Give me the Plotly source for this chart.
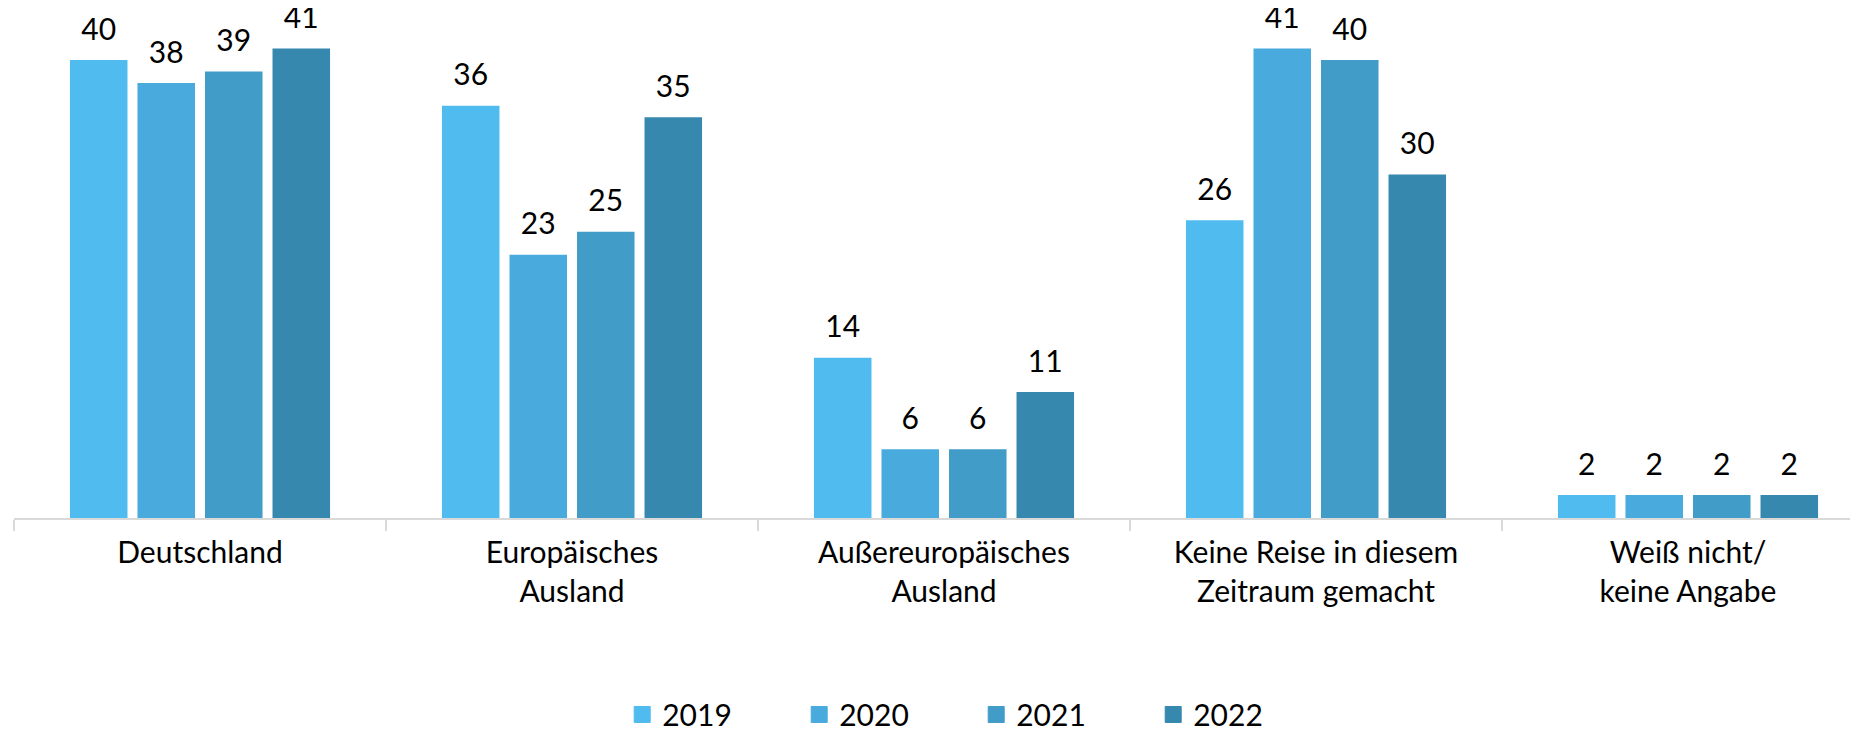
import plotly.graph_objects as go

# categories and values (percent)
categories = ["Deutschland", "Europäisches<br>Ausland", "Außereuropäisches<br>Ausland",
              "Keine Reise in diesem<br>Zeitraum gemacht", "Weiß nicht/<br>keine Angabe"]
years = ["2019", "2020", "2021", "2022"]
v2019 = [40, 36, 14, 26, 2]
v2020 = [38, 23, 6, 41, 2]
v2021 = [39, 25, 6, 40, 2]
v2022 = [41, 35, 11, 30, 2]
values = [v2019, v2020, v2021, v2022]
colors = ["#50BBEF", "#49ABDD", "#429CC8", "#3788AE"]

FONT = "Lato"
FS = 30

fig = go.Figure()

# bars
for yr, vals, col in zip(years, values, colors):
    fig.add_trace(go.Bar(
        x=categories, y=vals, name=yr,
        marker=dict(color=col, line=dict(width=0)),
        showlegend=False, hoverinfo="skip",
    ))

# value labels above bars (grouped scatter so they line up with the bars)
for yr, vals in zip(years, values):
    fig.add_trace(go.Scatter(
        x=categories, y=vals, mode="markers+text",
        text=[str(v) for v in vals], textposition="top center",
        textfont=dict(family=FONT, size=FS, color="#000000"),
        marker=dict(size=19, color="rgba(0,0,0,0)"),
        showlegend=False, hoverinfo="skip", cliponaxis=False,
    ))

# legend entries with bigger square swatches (on a hidden overlay axis so they
# don't take part in the grouping of the label traces)
for yr, col in zip(years, colors):
    fig.add_trace(go.Scatter(
        x=[None], y=[None], mode="markers", name=yr, xaxis="x2", yaxis="y2",
        marker=dict(symbol="square", size=16, color=col, line=dict(color=col, width=1)),
        hoverinfo="skip",
    ))

# page body adds an 8px offset, so the figure is sized 8px smaller
fig.update_layout(
    width=1850, height=722,
    margin=dict(l=6, r=0, t=0, b=212),
    paper_bgcolor="white", plot_bgcolor="white",
    barmode="group", bargap=0.274, bargroupgap=0.148,
    scattermode="group", scattergap=0.274,
    font=dict(family=FONT, size=FS, color="#000000"),
    showlegend=True,
    legend=dict(
        orientation="h", xref="container", yref="container",
        x=0.332, y=0.0215, xanchor="left", yanchor="middle",
        font=dict(family=FONT, size=30, color="#000000"),
        entrywidth=132, entrywidthmode="pixels",
        bgcolor="rgba(0,0,0,0)",
    ),
    xaxis=dict(
        type="category", range=[-0.5, 4.457],
        showline=True, linecolor="#d9d9d9", linewidth=2,
        ticks="outside", tickson="boundaries", ticklen=11, tickcolor="#d9d9d9", tickwidth=2,
        ticklabelstandoff=7,
        showgrid=False, tickfont=dict(family=FONT, size=FS, color="#000000"),
    ),
    yaxis=dict(range=[0, 44.54], visible=False, showgrid=False, zeroline=False),
    xaxis2=dict(overlaying="x", visible=False),
    yaxis2=dict(overlaying="y", visible=False),
)

fig.write_html("out.html")
